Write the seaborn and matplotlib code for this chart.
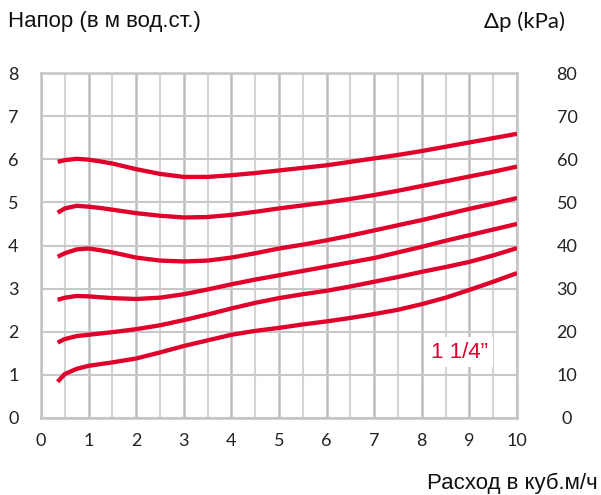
import numpy as np
import pandas as pd
import matplotlib
matplotlib.use("Agg")
import matplotlib.pyplot as plt
import seaborn as sns
from matplotlib.ticker import MultipleLocator

# ---- data ----
flow = [0.35, 0.5, 0.75, 1.0, 1.25, 1.5, 2.0, 2.5, 3.0, 3.5, 4.0, 4.5, 5.0, 5.5,
        6.0, 6.5, 7.0, 7.5, 8.0, 8.5, 9.0, 9.5, 10.0]
head_1 = [5.94, 5.98, 6.01, 5.99, 5.95, 5.90, 5.77, 5.66, 5.59, 5.59, 5.63, 5.68, 5.74, 5.80,
          5.86, 5.94, 6.02, 6.10, 6.19, 6.29, 6.39, 6.49, 6.59]
head_2 = [4.76, 4.86, 4.92, 4.90, 4.87, 4.83, 4.75, 4.69, 4.65, 4.66, 4.71, 4.78, 4.86, 4.93,
          5.00, 5.08, 5.17, 5.27, 5.38, 5.49, 5.60, 5.71, 5.83]
head_3 = [3.74, 3.82, 3.91, 3.93, 3.89, 3.84, 3.72, 3.65, 3.63, 3.65, 3.72, 3.82, 3.93, 4.02,
          4.12, 4.23, 4.35, 4.47, 4.59, 4.72, 4.85, 4.97, 5.10]
head_4 = [2.74, 2.79, 2.83, 2.82, 2.80, 2.78, 2.76, 2.79, 2.87, 2.98, 3.10, 3.21, 3.31, 3.41,
          3.51, 3.61, 3.71, 3.84, 3.97, 4.11, 4.24, 4.37, 4.50]
head_5 = [1.75, 1.83, 1.90, 1.93, 1.96, 1.99, 2.06, 2.15, 2.27, 2.40, 2.54, 2.67, 2.78, 2.87,
          2.95, 3.05, 3.16, 3.27, 3.39, 3.50, 3.62, 3.77, 3.94]
head_6 = [0.84, 1.02, 1.14, 1.21, 1.25, 1.29, 1.38, 1.52, 1.67, 1.80, 1.93, 2.02, 2.09, 2.17,
          2.24, 2.32, 2.41, 2.51, 2.64, 2.79, 2.97, 3.16, 3.36]
curve_names = ["c1", "c2", "c3", "c4", "c5", "c6"]
x_ticks = list(range(0, 11))
y_ticks = list(range(0, 9))
y_right_ticks = [v * 10 for v in y_ticks]
label_text = "1 1/4\u201d"

RED = "#E0002B"

df = pd.concat([
    pd.DataFrame({"flow": flow, "head": h, "curve": n})
    for h, n in zip([head_1, head_2, head_3, head_4, head_5, head_6], curve_names)
])

sns.set_theme(style="white")
plt.rcParams["font.family"] = ["Liberation Sans", "DejaVu Sans"]

fig = plt.figure(figsize=(6.01, 4.95), dpi=100)
ax = fig.add_axes([41 / 601, 1 - 418 / 495, 476 / 601, 345 / 495])

sns.lineplot(data=df, x="flow", y="head", units="curve", estimator=None,
             color=RED, linewidth=3.1, ax=ax, sort=True, legend=False)
for line in ax.lines:
    line.set_solid_capstyle("butt")
    line.set_solid_joinstyle("round")
    line.set_zorder(3)

ax.set_xlim(0, 10)
ax.set_ylim(0, 8)
ax.set_xticks(x_ticks)
ax.set_yticks(y_ticks)
ax.xaxis.set_minor_locator(MultipleLocator(0.5))
ax.grid(True, which="major", axis="x", color="#BDBDBD", linewidth=1.8, zorder=0)
ax.grid(True, which="minor", axis="x", color="#D4D4D4", linewidth=1.5, zorder=0)
ax.grid(True, which="major", axis="y", color="#C8C8C8", linewidth=1.5, zorder=0)
ax.set_axisbelow(True)
for s in ax.spines.values():
    s.set_color("#C4C4C4")
    s.set_linewidth(1.8)

tick_font = "Lato"
ax.tick_params(axis="both", which="both", length=0)
ax.tick_params(axis="x", pad=11, labelsize=13)
ax.tick_params(axis="y", pad=20, labelsize=13)
ax.set_xticklabels([str(t) for t in x_ticks], fontfamily=tick_font, color="#222222")
ax.set_yticklabels([str(t) for t in y_ticks], fontfamily=tick_font, color="#222222", ha="center")
ax.set_xlabel("")
ax.set_ylabel("")

ax2 = ax.twinx()
ax2.set_ylim(0, 80)
ax2.set_yticks(y_right_ticks)
ax2.set_yticklabels([str(t) for t in y_right_ticks], fontfamily=tick_font, color="#222222", ha="center")
ax2.tick_params(axis="y", length=0, pad=36, labelsize=13)
for s in ax2.spines.values():
    s.set_visible(False)

ax.text(8.8, 1.53, label_text, color=RED, fontsize=16, ha="center", va="center",
        bbox=dict(facecolor="white", edgecolor="none", pad=3), zorder=4)

fig.text(8 / 601, 1 - 22 / 495, "Напор (в м вод.ст.)", fontsize=16, ha="left", va="center", color="#111111")
fig.text(565 / 601, 1 - 22 / 495, "\u0394p (kPa)", fontsize=16, ha="right", va="center",
         fontfamily=tick_font, color="#111111")
fig.text(598 / 601, 1 - 483 / 495, "Расход в куб.м/ч", fontsize=16, ha="right", va="center", color="#111111")

fig.savefig("out.png", dpi=100)
